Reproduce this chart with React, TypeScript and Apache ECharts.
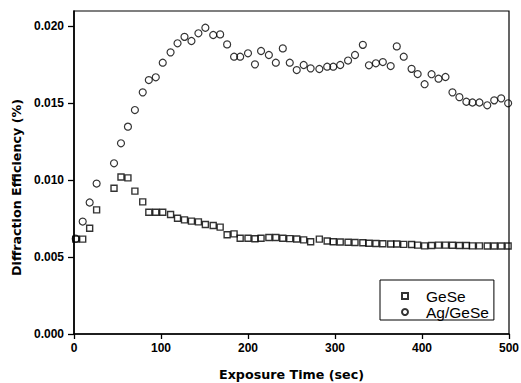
import React, { useEffect, useRef } from "react";
import * as echarts from "echarts";

const times = [2, 10, 18, 26, 46, 54, 62, 70, 79, 86, 94, 102, 111, 119, 127, 135, 143, 151, 160, 168, 176, 184, 191, 200, 208, 215, 224, 232, 240, 248, 256, 264, 272, 282, 291, 298, 306, 315, 323, 332, 339, 347, 355, 364, 371, 379, 388, 395, 403, 411, 419, 427, 435, 443, 451, 458, 466, 475, 483, 491, 499];

const geSe = [0.00617, 0.00617, 0.00688, 0.00807, 0.00948, 0.01021, 0.01015, 0.00929, 0.00859, 0.00792, 0.00792, 0.00792, 0.00777, 0.00753, 0.00742, 0.00734, 0.00729, 0.00712, 0.00705, 0.00695, 0.00645, 0.00651, 0.00623, 0.00623, 0.00619, 0.00623, 0.00627, 0.00627, 0.00623, 0.0062, 0.00618, 0.00612, 0.006, 0.00617, 0.00605, 0.006, 0.00598, 0.00597, 0.00595, 0.00593, 0.0059, 0.00588, 0.00587, 0.00585, 0.00585, 0.00583, 0.00582, 0.00578, 0.00573, 0.00575, 0.00578, 0.00578, 0.00577, 0.00575, 0.00575, 0.00573, 0.00573, 0.00572, 0.00572, 0.00572, 0.00572];

const agGeSe = [0.0062, 0.00731, 0.00855, 0.00978, 0.0111, 0.0124, 0.01348, 0.01456, 0.01571, 0.01651, 0.01669, 0.01764, 0.01831, 0.0189, 0.01932, 0.01905, 0.01955, 0.01991, 0.01944, 0.01948, 0.01883, 0.01803, 0.01803, 0.01825, 0.01753, 0.0184, 0.01814, 0.01764, 0.01857, 0.01764, 0.01716, 0.01749, 0.01727, 0.01723, 0.01738, 0.01738, 0.01749, 0.01778, 0.01814, 0.0188, 0.01747, 0.0176, 0.01768, 0.01742, 0.0187, 0.01803, 0.01724, 0.0169, 0.01624, 0.01689, 0.0166, 0.01671, 0.01571, 0.0154, 0.0151, 0.01505, 0.01505, 0.01487, 0.01519, 0.01532, 0.015];

const yTicks = [0, 0.005, 0.01, 0.015, 0.02];
const xTicks = [0, 100, 200, 300, 400, 500];
const seriesNames = ["GeSe", "Ag/GeSe"];

const labelFont = "'Liberation Sans', Arial, sans-serif";
const titleFont = "'DejaVu Sans', sans-serif";

export default function App() {
  const ref = useRef<HTMLDivElement>(null);
  useEffect(() => {
    if (!ref.current) return;
    const chart = echarts.init(ref.current, null, { renderer: "svg" });
    const pair = (vals: number[]) => times.map((t, i) => [t, vals[i]]);
    chart.setOption({
      animation: false,
      backgroundColor: "#fff",
      grid: {
        left: 74,
        right: 12,
        top: 11,
        bottom: 49,
        show: true,
        borderColor: "#000",
        borderWidth: 1.2,
        containLabel: false,
        outerBoundsMode: "none",
      },
      legend: {
        data: seriesNames,
        orient: "vertical",
        left: 380,
        top: 280,
        padding: [8, 5, 0, 21],
        itemWidth: 6,
        itemHeight: 6,
        itemGap: 0,
        borderColor: "#000",
        borderWidth: 1,
        textStyle: {
          fontFamily: labelFont,
          fontSize: 15.5,
          color: "#000",
          lineHeight: 16,
          padding: [0, 0, 0, 13],
        },
      },
      xAxis: {
        type: "value",
        min: 0,
        max: 500,
        interval: 100,
        name: "Exposure Time (sec)",
        nameLocation: "middle",
        nameGap: 34,
        nameTextStyle: {
          fontFamily: titleFont,
          fontWeight: "bold",
          fontSize: 12.7,
          color: "#000",
        },
        axisLine: { show: true, lineStyle: { color: "#000", width: 1.6 } },
        axisTick: { show: true, inside: false, length: 5, lineStyle: { color: "#000", width: 1.3 }, customValues: xTicks },
        axisLabel: {
          customValues: xTicks,
          margin: 8,
          fontFamily: labelFont,
          fontWeight: "bold",
          fontSize: 12,
          color: "#000",
        },
        splitLine: { show: false },
      },
      yAxis: {
        type: "value",
        min: 0,
        max: 0.021,
        interval: 0.005,
        name: "Diffraction Efficiency (%)",
        nameLocation: "middle",
        nameGap: 50,
        nameTextStyle: {
          fontFamily: titleFont,
          fontWeight: "bold",
          fontSize: 12.7,
          color: "#000",
          padding: [0, 30, 0, 0],
        },
        axisLine: { show: true, lineStyle: { color: "#000", width: 1.6 } },
        axisTick: { show: true, inside: false, length: 6, lineStyle: { color: "#000", width: 1.3 }, customValues: yTicks },
        axisLabel: {
          customValues: yTicks,
          margin: 10,
          fontFamily: labelFont,
          fontWeight: "bold",
          fontSize: 12,
          color: "#000",
          formatter: (v: number) => v.toFixed(3),
        },
        splitLine: { show: false },
      },
      series: [
        {
          name: seriesNames[0],
          type: "scatter",
          symbol: "rect",
          symbolSize: 6,
          data: pair(geSe),
          itemStyle: { color: "rgba(0,0,0,0)", borderColor: "#000", borderWidth: 1.4 },
          z: 3,
        },
        {
          name: seriesNames[1],
          type: "scatter",
          symbol: "circle",
          symbolSize: 7,
          data: pair(agGeSe),
          itemStyle: { color: "rgba(0,0,0,0)", borderColor: "#000", borderWidth: 1.2 },
          z: 2,
        },
      ],
    });
    return () => chart.dispose();
  }, []);
  return (
    <div
      ref={ref}
      style={{ position: "fixed", left: 0, top: 0, width: 521, height: 383, background: "#fff" }}
    />
  );
}
